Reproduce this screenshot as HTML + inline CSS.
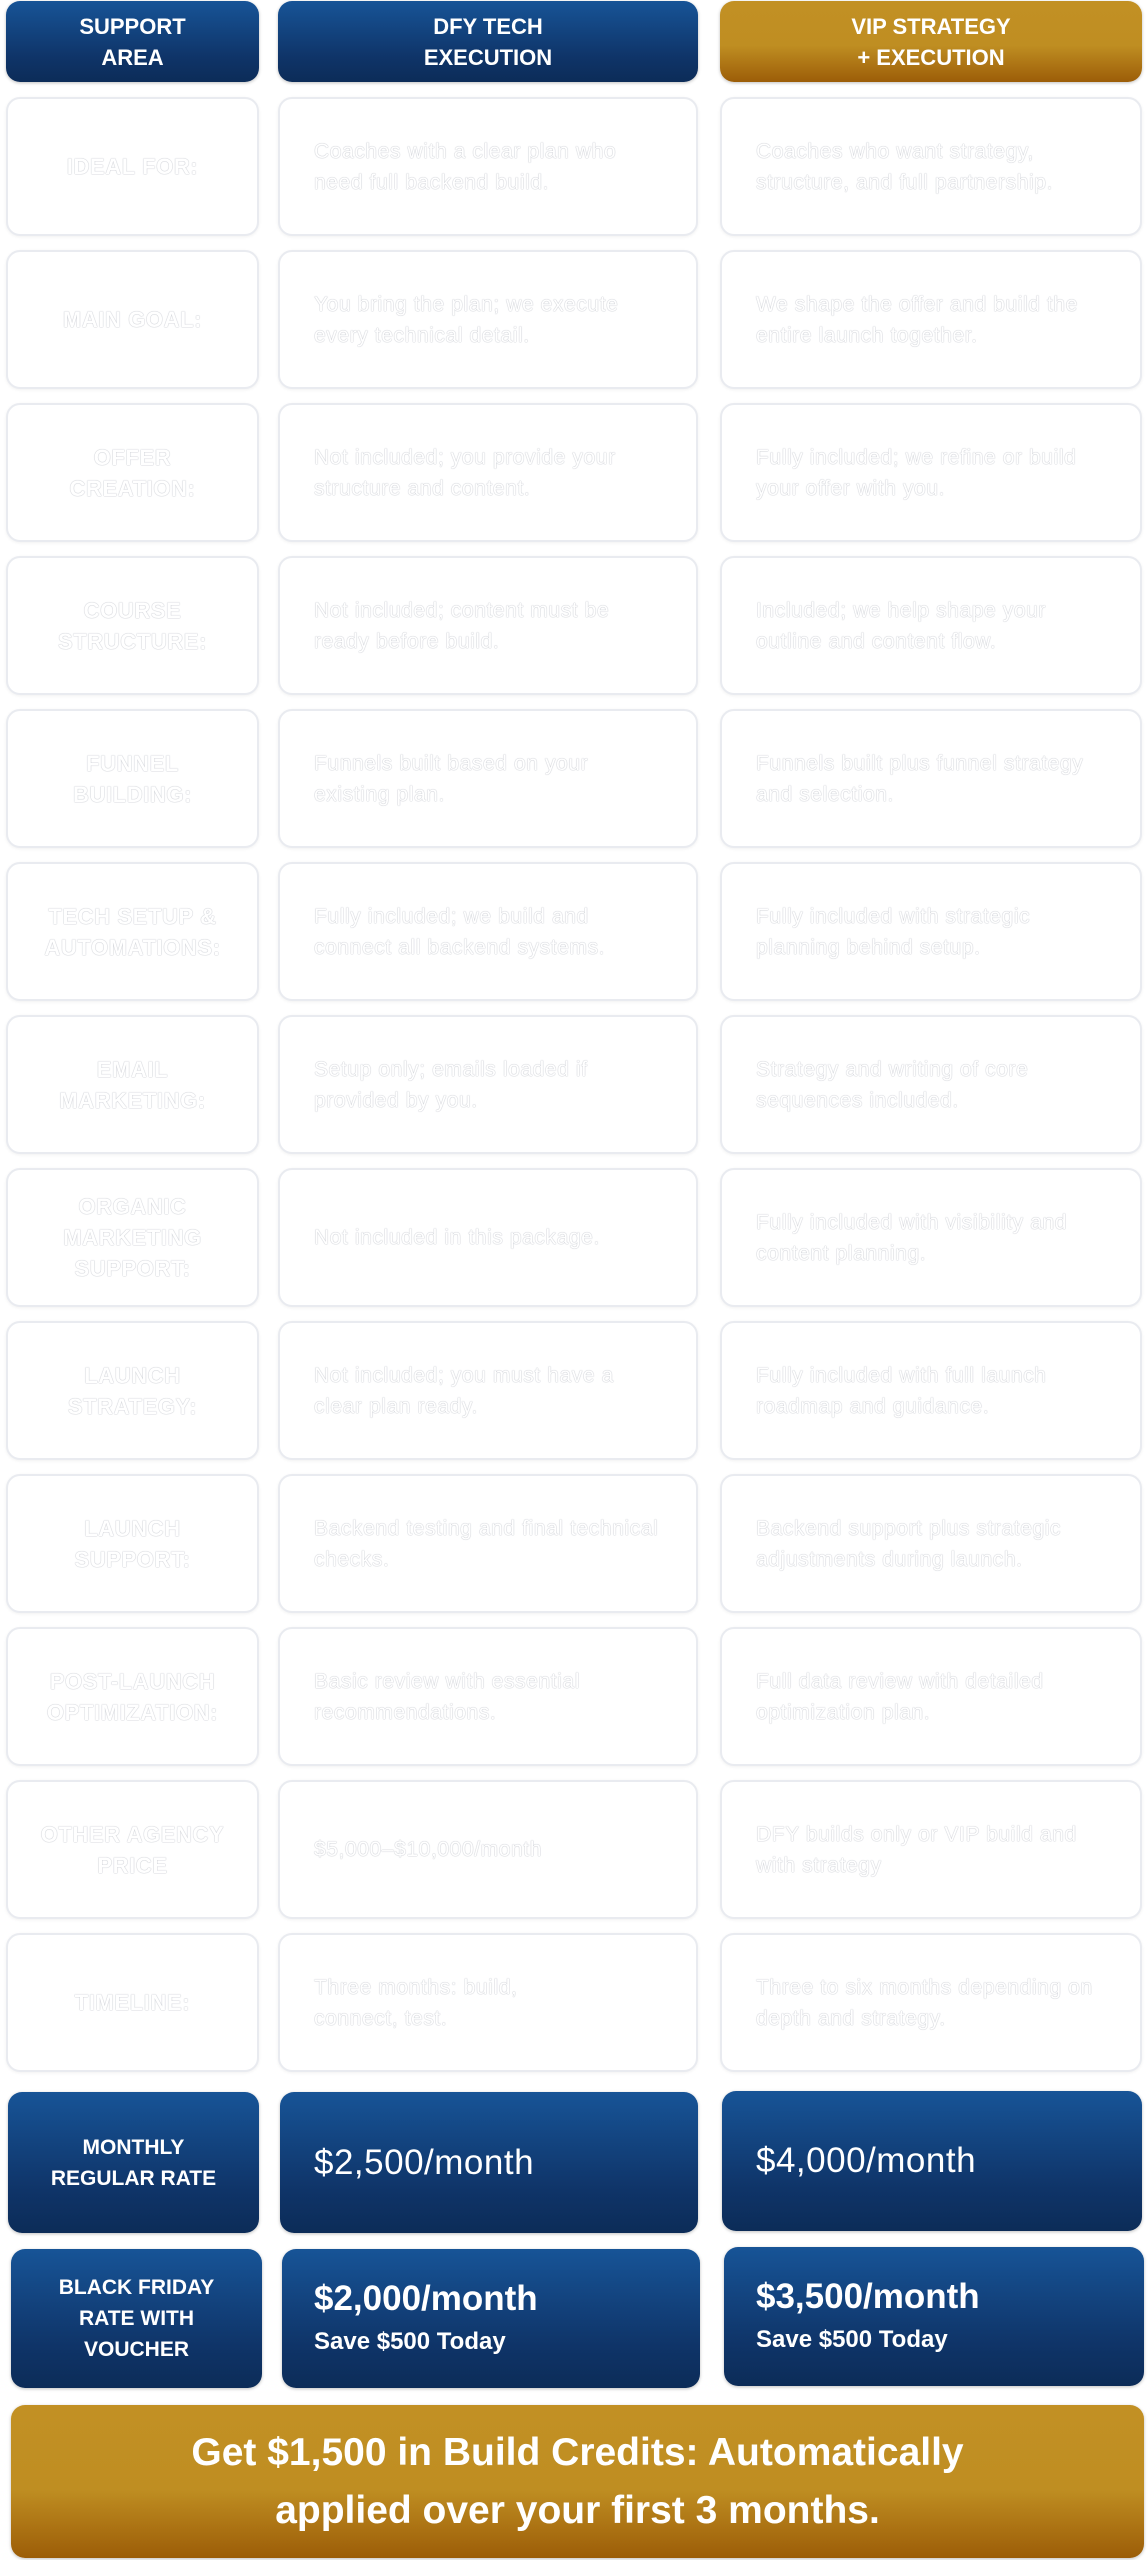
<!DOCTYPE html>
<html><head><meta charset="utf-8"><style>
html,body{margin:0;padding:0;background:#fff;width:1148px;height:2560px;overflow:hidden;font-family:"Liberation Sans",sans-serif}
.b{position:absolute;box-sizing:border-box;border-radius:14px;display:flex;align-items:center}
.cell{border:2px solid #e9ebf0;background:#fff;box-shadow:0 1px 3px rgba(0,0,0,0.06)}
.t{color:#fff;text-shadow:0 0 1px #b9bcc4,0 0 1px #b9bcc4;font-size:21px;line-height:31px;letter-spacing:0.6px}
.lab{justify-content:center;text-align:center;font-weight:bold;text-transform:uppercase;padding:0 12px;font-size:22px}
.txt{padding:0 20px 0 34px}
.txt div{width:350px}
.blue{background:linear-gradient(#175497,#0f3468 70%,#0c2c58);color:#fff;box-shadow:0 1px 3px rgba(0,0,0,0.25)}
.gold{background:linear-gradient(#c29024,#bf8e22 55%,#9c5d08);color:#fff;box-shadow:0 1px 3px rgba(0,0,0,0.25)}
.hd{justify-content:center;text-align:center;font-weight:bold;font-size:22px;line-height:31px}
</style></head><body>
<div class="b blue hd" style="left:6px;top:1px;width:253px;height:81px">SUPPORT<br>AREA</div>
<div class="b blue hd" style="left:278px;top:1px;width:420px;height:81px">DFY TECH<br>EXECUTION</div>
<div class="b gold hd" style="left:720px;top:1px;width:422px;height:81px">VIP STRATEGY<br>+ EXECUTION</div>

<div id="rows"></div>
<script>
var R=[
["IDEAL FOR:","Coaches with a clear plan who need full backend build.","Coaches who want strategy, structure, and full partnership."],
["MAIN GOAL:","You bring the plan; we execute every technical detail.","We shape the offer and build the entire launch together."],
["OFFER<br>CREATION:","Not included; you provide your structure and content.","Fully included; we refine or build your offer with you."],
["COURSE<br>STRUCTURE:","Not included; content must be ready before build.","Included; we help shape your outline and content flow."],
["FUNNEL<br>BUILDING:","Funnels built based on your existing plan.","Funnels built plus funnel strategy and selection."],
["TECH SETUP &amp;<br>AUTOMATIONS:","Fully included; we build and connect all backend systems.","Fully included with strategic planning behind setup."],
["EMAIL<br>MARKETING:","Setup only; emails loaded if provided by you.","Strategy and writing of core sequences included."],
["ORGANIC<br>MARKETING<br>SUPPORT:","Not included in this package.","Fully included with visibility and content planning."],
["LAUNCH<br>STRATEGY:","Not included; you must have a clear plan ready.","Fully included with full launch roadmap and guidance."],
["LAUNCH<br>SUPPORT:","Backend testing and final technical checks.","Backend support plus strategic adjustments during launch."],
["POST-LAUNCH<br>OPTIMIZATION:","Basic review with essential recommendations.","Full data review with detailed optimization plan."],
["OTHER AGENCY<br>PRICE","$5,000–$10,000/month","DFY builds only  or VIP  build and with strategy"],
["TIMELINE:","Three months: build,<br>connect, test.","Three to six months depending on depth and strategy."]];
var h="";
for(var i=0;i<R.length;i++){var y=97+i*153;
h+='<div class="b cell t lab" style="left:6px;top:'+y+'px;width:253px;height:139px">'+R[i][0]+'</div>';
h+='<div class="b cell t txt" style="left:278px;top:'+y+'px;width:420px;height:139px"><div>'+R[i][1]+'</div></div>';
h+='<div class="b cell t txt" style="left:720px;top:'+y+'px;width:422px;height:139px"><div>'+R[i][2]+'</div></div>';}
document.getElementById("rows").innerHTML=h;
</script>

<div class="b blue hd" style="left:8px;top:2092px;width:251px;height:141px;font-size:21px">MONTHLY<br>REGULAR RATE</div>
<div class="b blue" style="left:280px;top:2092px;width:418px;height:141px;padding-left:34px;font-size:35px;letter-spacing:0.5px">$2,500/month</div>
<div class="b blue" style="left:722px;top:2091px;width:420px;height:140px;padding-left:34px;font-size:35px;letter-spacing:0.5px">$4,000/month</div>

<div class="b blue hd" style="left:11px;top:2249px;width:251px;height:139px;font-size:21px">BLACK FRIDAY<br>RATE WITH<br>VOUCHER</div>
<div class="b blue" style="left:282px;top:2249px;width:418px;height:139px;padding-left:32px"><div><div style="font-size:35px;font-weight:bold;line-height:46px">$2,000/month</div><div style="font-size:24px;font-weight:bold;line-height:40px">Save $500 Today</div></div></div>
<div class="b blue" style="left:724px;top:2247px;width:420px;height:139px;padding-left:32px"><div><div style="font-size:35px;font-weight:bold;line-height:46px">$3,500/month</div><div style="font-size:24px;font-weight:bold;line-height:40px">Save $500 Today</div></div></div>

<div class="b gold hd" style="left:11px;top:2405px;width:1133px;height:153px;font-size:39px;line-height:58px">Get $1,500 in Build Credits: Automatically<br>applied over your first 3 months.</div>
</body></html>
